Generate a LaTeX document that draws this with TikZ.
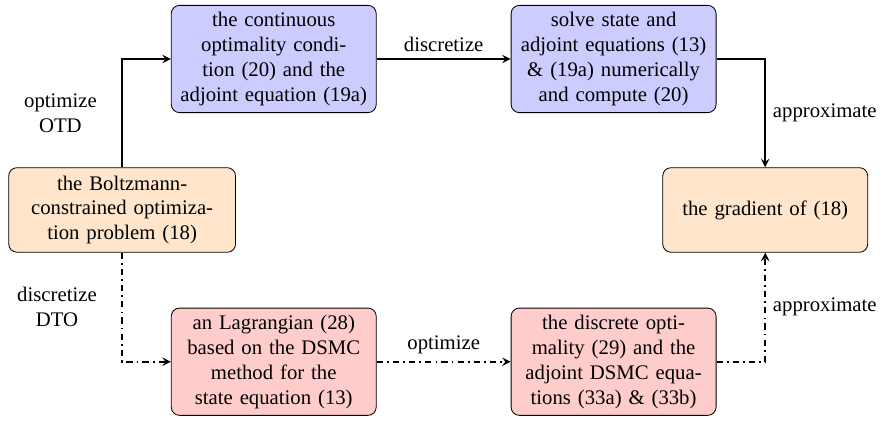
\documentclass[tikz,border=0pt]{standalone}
\usepackage{fontspec}
\setmainfont{Liberation Serif}
\usetikzlibrary{arrows}

\begin{document}
\begin{tikzpicture}[->,>=stealth,thick,
        box/.style={draw,thin,solid,rounded corners=4pt,align=center,text width=3.24cm},
        contbox/.style={box,fill=blue!20},
        probbox/.style={box,fill=orange!20,minimum height=1.434cm},
        discbox/.style={box,fill=red!20}]
        \useasboundingbox (0,0) rectangle (15,7.136);
        \node[contbox] (cont) at (4.64,6.136) {the continuous\\optimality condi-\\tion (20) and the\\adjoint equation (19a)};
        \node[contbox] (solve) at (10.40,6.136) {solve state and\\adjoint equations (13)\\\& (19a) numerically\\and compute (20)};
        \node[probbox,text width=3.61cm] (prob) at (2.07,3.577) {the Boltzmann-\\constrained optimiza-\\tion problem (18)};
        \node[probbox] (grad) at (12.97,3.577) {the gradient of (18)};
        \node[discbox] (lagr) at (4.64,1.005) {an Lagrangian (28)\\based on the DSMC\\method for the\\state equation (13)};
        \node[discbox] (dopt) at (10.40,1.005) {the discrete opti-\\mality (29) and the\\adjoint DSMC equa-\\tions (33a) \& (33b)};
        \draw (prob.north) |- (cont.west) node[pos=0.25,left=0.3cm,align=center] {optimize\\OTD};
        \draw (cont) -- (solve) node[midway,above] {discretize};
        \draw (solve.east) -| (grad.north) node[pos=0.75,right] {approximate};
        \draw[dash dot] (prob.south) |- (lagr.west) node[pos=0.25,left=0.3cm,align=center] {discretize\\DTO};
        \draw[dash dot] (lagr) -- (dopt) node[midway,above] {optimize};
        \draw[dash dot] (dopt.east) -| (grad.south) node[pos=0.75,right] {approximate};
\end{tikzpicture}
\end{document}
